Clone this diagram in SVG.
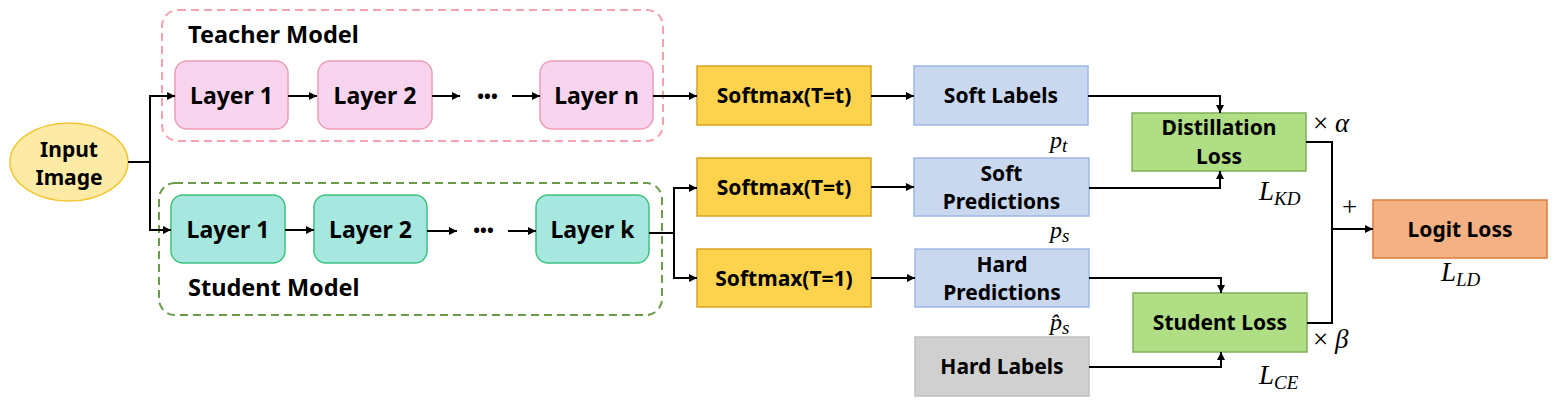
<svg xmlns="http://www.w3.org/2000/svg" width="1556" height="406" viewBox="0 0 1556 406">
<style>
.lbl{font-family:"Noto Sans","Open Sans",sans-serif;font-weight:bold;font-size:21px;fill:#000;text-anchor:middle}
.big{font-size:23px}
.title{font-family:"Noto Sans","Open Sans",sans-serif;font-weight:bold;font-size:23.5px;fill:#000}
.dots{font-family:"Noto Sans","Open Sans",sans-serif;font-weight:bold;font-size:18px;fill:#000;text-anchor:middle}
.math{font-family:"Liberation Serif","DejaVu Serif",serif;font-size:27px;fill:#000}
.pm{font-size:24px}
.it{font-style:italic}
.sub{font-size:19px;font-style:italic}
.tl{fill:#F9D4EE;stroke:#EB9FB5;stroke-width:1.5}
.sl{fill:#A6E8E0;stroke:#3CC47C;stroke-width:1.5}
.sm{fill:#FDD24C;stroke:#D8A322;stroke-width:1.5}
.bl{fill:#C9D7EF;stroke:#9DB9E6;stroke-width:1.5}
.gr{fill:#B0DE84;stroke:#7FB05A;stroke-width:1.5}
.gy{fill:#D0D0D0;stroke:#C0C0C0;stroke-width:1.5}
.or{fill:#F4B183;stroke:#E07B39;stroke-width:1.5}
.conn path{fill:none;stroke:#000;stroke-width:2}
</style>
<defs>
<marker id="ah" markerUnits="userSpaceOnUse" markerWidth="9" markerHeight="8" refX="8" refY="4" orient="auto">
<path d="M0,0 L8,4 L0,8 z" fill="#000"/>
</marker>
</defs>
<rect width="1556" height="406" fill="#fff"/>

<g id="teacher-group">
<rect x="162" y="10" width="501" height="131" rx="16" fill="none" stroke="#F4A2AE" stroke-width="2" stroke-dasharray="8 5"/>
<text class="title" x="188" y="43">Teacher Model</text>
</g>
<g id="student-group">
<rect x="159" y="183" width="503" height="132" rx="16" fill="none" stroke="#6A9A4A" stroke-width="2" stroke-dasharray="8 5"/>
<text class="title" x="188" y="296">Student Model</text>
</g>

<g id="input">
<ellipse cx="69" cy="162" rx="59" ry="39" fill="#FDEBA5" stroke="#F4C531" stroke-width="1.5"/>
<text class="lbl" x="69" y="157" font-size="22">Input</text>
<text class="lbl" x="69" y="185" font-size="22">Image</text>
</g>

<g id="t-layer1"><rect class="tl" x="175" y="61" width="113" height="68" rx="12"/><text class="lbl big" x="231.5" y="104">Layer 1</text></g>
<g id="t-layer2"><rect class="tl" x="318" y="61" width="114" height="68" rx="12"/><text class="lbl big" x="375" y="104">Layer 2</text></g>
<g id="t-dots"><text class="dots" x="487.5" y="103">•••</text></g>
<g id="t-layern"><rect class="tl" x="540" y="61" width="113" height="68" rx="12"/><text class="lbl big" x="596.5" y="104">Layer n</text></g>

<g id="s-layer1"><rect class="sl" x="171" y="195" width="114" height="68" rx="12"/><text class="lbl big" x="228" y="238">Layer 1</text></g>
<g id="s-layer2"><rect class="sl" x="314" y="195" width="113" height="68" rx="12"/><text class="lbl big" x="370.5" y="238">Layer 2</text></g>
<g id="s-dots"><text class="dots" x="483.5" y="237">•••</text></g>
<g id="s-layerk"><rect class="sl" x="536" y="195" width="113" height="68" rx="12"/><text class="lbl big" x="592.5" y="238">Layer k</text></g>

<g id="softmax-t1"><rect class="sm" x="697" y="66" width="174" height="59"/><text class="lbl" x="784" y="103">Softmax(T=t)</text></g>
<g id="softmax-t2"><rect class="sm" x="697" y="158" width="174" height="58"/><text class="lbl" x="784" y="195">Softmax(T=t)</text></g>
<g id="softmax-1"><rect class="sm" x="697" y="249" width="174" height="58"/><text class="lbl" x="784" y="286">Softmax(T=1)</text></g>

<g id="soft-labels"><rect class="bl" x="914" y="66" width="174" height="59"/><text class="lbl" x="1001" y="103">Soft Labels</text></g>
<g id="soft-pred"><rect class="bl" x="914" y="158" width="175" height="58"/><text class="lbl" x="1001.5" y="181">Soft</text><text class="lbl" x="1001.5" y="209">Predictions</text></g>
<g id="hard-pred"><rect class="bl" x="915" y="249" width="174" height="58"/><text class="lbl" x="1002" y="272">Hard</text><text class="lbl" x="1002" y="300">Predictions</text></g>
<g id="hard-labels"><rect class="gy" x="915" y="337" width="174" height="59"/><text class="lbl" x="1002" y="374">Hard Labels</text></g>

<g id="distill"><rect class="gr" x="1132" y="113" width="174" height="58"/><text class="lbl" x="1219" y="135">Distillation</text><text class="lbl" x="1219" y="164">Loss</text></g>
<g id="student-loss"><rect class="gr" x="1133" y="293" width="174" height="59"/><text class="lbl" x="1220" y="330">Student Loss</text></g>
<g id="logit-loss"><rect class="or" x="1373" y="200" width="174" height="58"/><text class="lbl" x="1460" y="237">Logit Loss</text></g>

<g id="math">
<text class="math pm" x="1050" y="148"><tspan class="it">p</tspan><tspan class="sub" dy="4">t</tspan></text>
<text class="math pm" x="1050" y="238"><tspan class="it">p</tspan><tspan class="sub" dy="4">s</tspan></text>
<text class="math pm" x="1050" y="330"><tspan class="it">p̂</tspan><tspan class="sub" dy="4">s</tspan></text>
<text class="math" x="1259" y="200"><tspan class="it">L</tspan><tspan class="sub" dy="5">KD</tspan></text>
<text class="math" x="1259" y="384"><tspan class="it">L</tspan><tspan class="sub" dy="5">CE</tspan></text>
<text class="math" x="1441" y="281"><tspan class="it">L</tspan><tspan class="sub" dy="5">LD</tspan></text>
<text class="math" x="1313" y="132">× <tspan class="it">α</tspan></text>
<text class="math" x="1313" y="348">× <tspan class="it">β</tspan></text>
<text class="math" x="1342" y="216" font-size="30">+</text>
</g>

<g id="connectors" class="conn">
<path d="M128,162 H150 V96 H175" marker-end="url(#ah)"/>
<path d="M150,162 V230 H171" marker-end="url(#ah)"/>
<path d="M288,96 H317" marker-end="url(#ah)"/>
<path d="M432,96 H460" marker-end="url(#ah)"/>
<path d="M512,96 H540" marker-end="url(#ah)"/>
<path d="M285,230 H314" marker-end="url(#ah)"/>
<path d="M427,231 H457" marker-end="url(#ah)"/>
<path d="M508,231 H536" marker-end="url(#ah)"/>
<path d="M653,96 H697" marker-end="url(#ah)"/>
<path d="M871,96 H914" marker-end="url(#ah)"/>
<path d="M649,233 H674"/>
<path d="M674,233 V188 H697" marker-end="url(#ah)"/>
<path d="M674,233 V278 H697" marker-end="url(#ah)"/>
<path d="M871,187 H914" marker-end="url(#ah)"/>
<path d="M871,278 H915" marker-end="url(#ah)"/>
<path d="M1088,96 H1220 V113" marker-end="url(#ah)"/>
<path d="M1089,188 H1220 V171" marker-end="url(#ah)"/>
<path d="M1089,278 H1221 V293" marker-end="url(#ah)"/>
<path d="M1089,367 H1221 V352" marker-end="url(#ah)"/>
<path d="M1306,142 H1332 V323 H1307"/>
<path d="M1332,229 H1373" marker-end="url(#ah)"/>
</g>
</svg>
